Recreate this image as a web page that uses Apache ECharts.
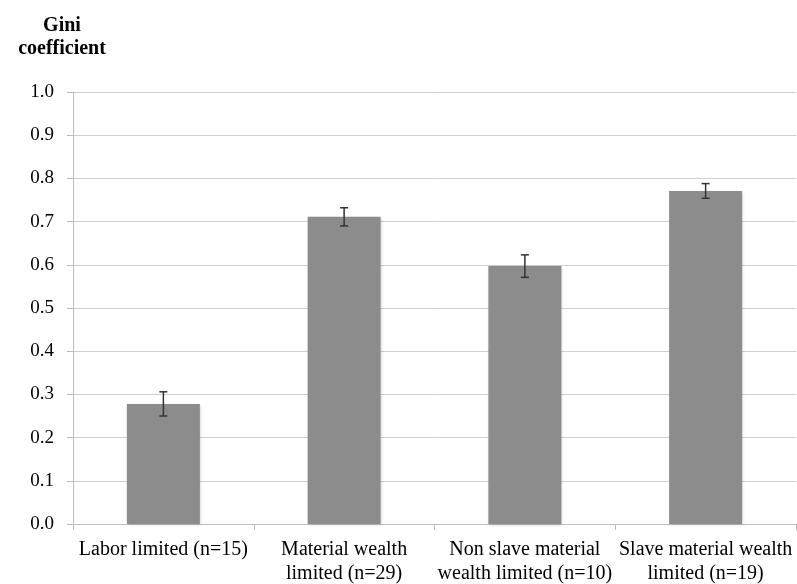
<!DOCTYPE html>
<html>
<head>
<meta charset="utf-8">
<script src="https://cdn.jsdelivr.net/npm/echarts@6/dist/echarts.min.js"></script>
<style>
  html, body { margin: 0; padding: 0; background: #fff; }
  #chart { width: 797px; height: 584px; }
</style>
</head>
<body>
<div id="chart"></div>
<script>
// Gini coefficient by society type, with standard-error bars
var categories = [
  'Labor limited (n=15)',
  'Material wealth\nlimited (n=29)',
  'Non slave material\nwealth limited (n=10)',
  'Slave material wealth\nlimited (n=19)'
];
var giniValues = [0.278, 0.711, 0.597, 0.771];
var giniErrors = [0.028, 0.021, 0.026, 0.017];
var yTicks = [0, 0.1, 0.2, 0.3, 0.4, 0.5, 0.6, 0.7, 0.8, 0.9, 1.0];

var serif = '"Liberation Serif", "Times New Roman", serif';

var errorData = giniValues.map(function (v, i) {
  return [i, v - giniErrors[i], v + giniErrors[i]];
});

var chart = echarts.init(document.getElementById('chart'));
chart.setOption({
  animation: false,
  backgroundColor: '#ffffff',
  title: {
    text: 'Gini\ncoefficient',
    left: 57,
    top: 9,
    textAlign: 'center',
    textStyle: {
      fontFamily: serif,
      fontSize: 20,
      fontWeight: 'bold',
      color: '#000',
      lineHeight: 23
    }
  },
  grid: { left: 73, right: 1, top: 92, bottom: 60, outerBoundsMode: 'none', containLabel: false },
  xAxis: {
    type: 'category',
    data: categories,
    boundaryGap: true,
    axisLine: { lineStyle: { color: '#bdbdbd', width: 1 } },
    axisTick: { show: true, length: 6, lineStyle: { color: '#bdbdbd' } },
    axisLabel: {
      fontFamily: serif,
      fontSize: 20,
      color: '#000',
      lineHeight: 24,
      margin: 14,
      interval: 0,
      hideOverlap: false
    }
  },
  yAxis: {
    type: 'value',
    min: 0,
    max: 1,
    interval: 0.1,
    axisLine: { show: true, lineStyle: { color: '#bdbdbd', width: 1 } },
    axisTick: { show: true, length: 6, lineStyle: { color: '#bdbdbd' } },
    splitLine: { show: true, lineStyle: { color: '#d0d0d0', width: 1 } },
    axisLabel: {
      fontFamily: serif,
      fontSize: 19,
      color: '#000',
      margin: 19,
      formatter: function (v) {
        var t = yTicks.find(function (x) { return Math.abs(x - v) < 1e-9; });
        return (t !== undefined ? t : v).toFixed(1);
      }
    }
  },
  series: [
    {
      type: 'bar',
      data: giniValues,
      barWidth: 73,
      itemStyle: {
        color: '#8c8c8c',
        shadowColor: 'rgba(0,0,0,0.18)',
        shadowBlur: 3,
        shadowOffsetX: 1,
        shadowOffsetY: 1
      },
      z: 2
    },
    {
      type: 'custom',
      data: errorData,
      z: 5,
      renderItem: function (params, api) {
        var x = api.value(0);
        var lo = api.coord([x, api.value(1)]);
        var hi = api.coord([x, api.value(2)]);
        var half = 4;
        var style = { stroke: '#333333', lineWidth: 1.5 };
        return {
          type: 'group',
          children: [
            { type: 'line', shape: { x1: lo[0], y1: lo[1], x2: hi[0], y2: hi[1] }, style: style },
            { type: 'line', shape: { x1: lo[0] - half, y1: lo[1], x2: lo[0] + half, y2: lo[1] }, style: style },
            { type: 'line', shape: { x1: hi[0] - half, y1: hi[1], x2: hi[0] + half, y2: hi[1] }, style: style }
          ]
        };
      }
    }
  ]
});
</script>
</body>
</html>
